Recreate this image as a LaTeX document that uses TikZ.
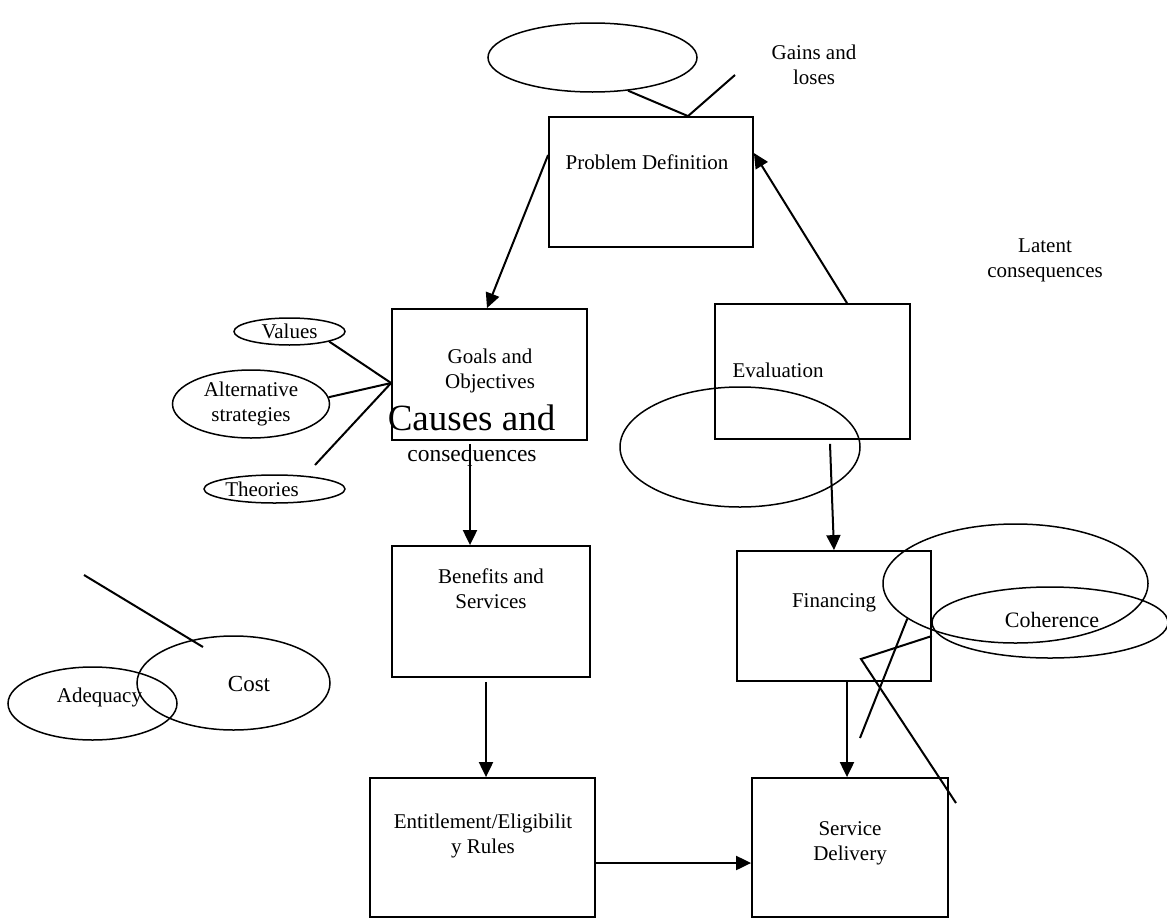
\documentclass[tikz,border=0pt]{standalone}
\usepackage{fontspec}
\setmainfont{Liberation Serif}
\usetikzlibrary{arrows.meta,shapes.geometric}

\begin{document}
\begin{tikzpicture}[x=1pt, y=-1pt, font=\fontsize{21}{25}\selectfont,
		stage/.style={draw, rectangle, line width=1.8pt, inner sep=0pt},
		oval/.style={draw, ellipse, line width=1.5pt, inner sep=0pt, align=center},
		txt/.style={align=center, inner sep=0pt},
		flow/.style={line width=2pt, -{Triangle[length=15pt,width=14pt]}},
		link/.style={line width=2pt}]
		\useasboundingbox (0,0) rectangle (1167,921);
		
		% Stages
		\node[stage, minimum width=204, minimum height=130] (pd) at (651,182) {};
		\node[stage, minimum width=195, minimum height=131] (goals) at (489.5,374.5) {};
		\node[stage, minimum width=195, minimum height=135] (eval) at (812.5,371.5) {};
		\node[stage, minimum width=198, minimum height=131] (ben) at (491,611.5) {};
		\node[stage, minimum width=194, minimum height=130] (fin) at (834,616) {};
		\node[stage, minimum width=225, minimum height=139] (ent) at (482.5,847.5) {};
		\node[stage, minimum width=196, minimum height=139] (sd) at (850,847.5) {};
		
		% Stage texts
		\node[txt] (pdtext) at (647,162) {Problem Definition};
		\node[txt] (goalstext) at (490,370.5) {Goals and\\Objectives};
		\node[txt] (evaltext) at (778,370) {Evaluation};
		\node[txt] (bentext) at (491,588.5) {Benefits and\\Services};
		\node[txt] (fintext) at (834,603) {Financing};
		\node[txt] (enttext) at (483,835.5) {Entitlement/Eligibilit\\y Rules};
		\node[txt] (sdtext) at (850,843) {Service\\Delivery};
		
		% Ovals
		\node[oval, minimum width=209, minimum height=69] (topoval) at (592.5,57.5) {};
		\node[oval, minimum width=111, minimum height=27] (values) at (289.5,331.5) {Values};
		\node[oval, minimum width=157, minimum height=68] (alt) at (251,404) {Alternative\\strategies};
		\node[oval, minimum width=141, minimum height=28] (theories) at (274.5,489) {};
		\node[oval, minimum width=240, minimum height=120] (evaloval) at (740,447) {};
		\node[oval, minimum width=265, minimum height=119] (coh1) at (1015.5,583.5) {};
		\node[oval, minimum width=236, minimum height=71] (coh2) at (1050,622.5) {};
		\node[oval, minimum width=193, minimum height=94] (cost) at (233.5,683) {};
		\node[oval, minimum width=169, minimum height=73] (adeq) at (92.5,703.5) {};
		
		% Labels
		\node[txt] (theoriestext) at (262,489) {Theories};
		\node[txt, font=\fontsize{22}{25}\selectfont] (cohtext) at (1052,620) {Coherence};
		\node[txt, font=\fontsize{23}{26}\selectfont] (costtext) at (249,684) {Cost};
		\node[txt] (adeqtext) at (99.5,697) {Adequacy};
		\node[txt] (gains) at (814,64.5) {Gains and\\loses};
		\node[txt] (latent) at (1045,260.5) {Latent\\consequences};
		\node[txt, anchor=base, font=\fontsize{37}{40}\selectfont] (causes) at (471.5,430) {Causes and};
		\node[txt, anchor=base, font=\fontsize{23.5}{26}\selectfont] (conseq) at (472,461) {consequences};
		
		% Free ends
		\coordinate (gainsend) at (735,75);
		\coordinate (thend) at (315,465);
		\coordinate (costa) at (84,575);
		\coordinate (costb) at (203,647);
		\coordinate (crossa) at (860,738);
		\coordinate (crossc) at (861,659);
		\coordinate (crossd) at (956,803);
		
		% Connections
		\draw[flow] ([yshift=27pt]pd.west) -- ([xshift=-2.5pt]goals.north);
		\draw[flow] ([xshift=34.5pt]eval.north) -- ([yshift=29pt]pd.east);
		\draw[flow] ([xshift=-19.5pt,yshift=-3pt]goals.south) -- ([xshift=-21pt]ben.north);
		\draw[flow] ([xshift=17.5pt,yshift=-4pt]eval.south) -- (fin.north);
		\draw[flow] ([xshift=-5pt,yshift=-4pt]ben.south) -- ([xshift=3.5pt]ent.north);
		\draw[flow] ([xshift=13pt]fin.south) -- ([xshift=-3pt]sd.north);
		\draw[flow] ([yshift=-15.5pt]ent.east) -- ([yshift=-15.5pt]sd.west);
		
		\draw[link] (topoval.-43) -- ([xshift=37pt]pd.north) -- (gainsend);
		\draw[link] (values.south east) -- ([yshift=-8.5pt]goals.west);
		\draw[link] (alt.5) -- ([yshift=-8.5pt]goals.west);
		\draw[link] (thend) -- ([yshift=-8.5pt]goals.west);
		\draw[link] (costa) -- (costb);
		\draw[link] (coh1.198) -- (crossa);
		\draw[link] ([yshift=-20pt]fin.east) -- (crossc) -- (crossd);
	\end{tikzpicture}
\end{document}
